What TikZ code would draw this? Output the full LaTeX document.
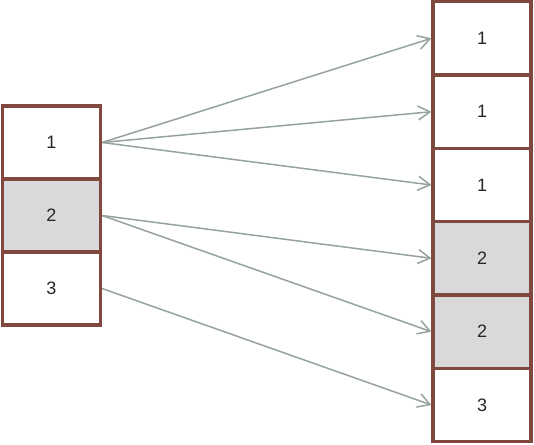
\documentclass[tikz,border=0pt]{standalone}
\usepackage{fontspec}
\setmainfont{Liberation Sans}
\usetikzlibrary{arrows.meta}

\definecolor{boxline}{RGB}{128,72,62}
\definecolor{boxgray}{RGB}{217,217,217}
\definecolor{arrowgray}{RGB}{150,163,154}
\definecolor{numtext}{RGB}{38,38,38}

\tikzset{
  cell/.style={draw=boxline, fill=white, line width=3.6pt, inner sep=0pt,
    minimum width=97.8pt, minimum height=73pt,
    text=numtext, font=\fontsize{18}{21}\selectfont},
  rcell/.style={cell, minimum width=97.5pt, minimum height=73.33pt},
  shaded/.style={fill=boxgray},
  link/.style={draw=arrowgray, line width=1.5pt,
    -{Straight Barb[length=12pt,width=14pt]}}
}

\begin{document}
\begin{tikzpicture}[x=1pt,y=-1pt]
                \useasboundingbox (0,0) rectangle (534,444);

                \node[cell] (L1) at (51.4,142.5) {1};
                \node[cell,shaded] (L2) at (51.4,215.5) {2};
                \node[cell] (L3) at (51.4,288.5) {3};

                \node[rcell] (R1) at (482,38.3) {1};
                \node[rcell] (R2) at (482,111.7) {1};
                \node[rcell] (R3) at (482,185) {1};
                \node[rcell,shaded] (R4) at (482,258.3) {2};
                \node[rcell,shaded] (R5) at (482,331.7) {2};
                \node[rcell] (R6) at (482,405) {3};

                \draw[link] (L1.east) -- (R1.west);
                \draw[link] (L1.east) -- (R2.west);
                \draw[link] (L1.east) -- (R3.west);
                \draw[link] (L2.east) -- (R4.west);
                \draw[link] (L2.east) -- (R5.west);
                \draw[link] (L3.east) -- (R6.west);
            \end{tikzpicture}
\end{document}
